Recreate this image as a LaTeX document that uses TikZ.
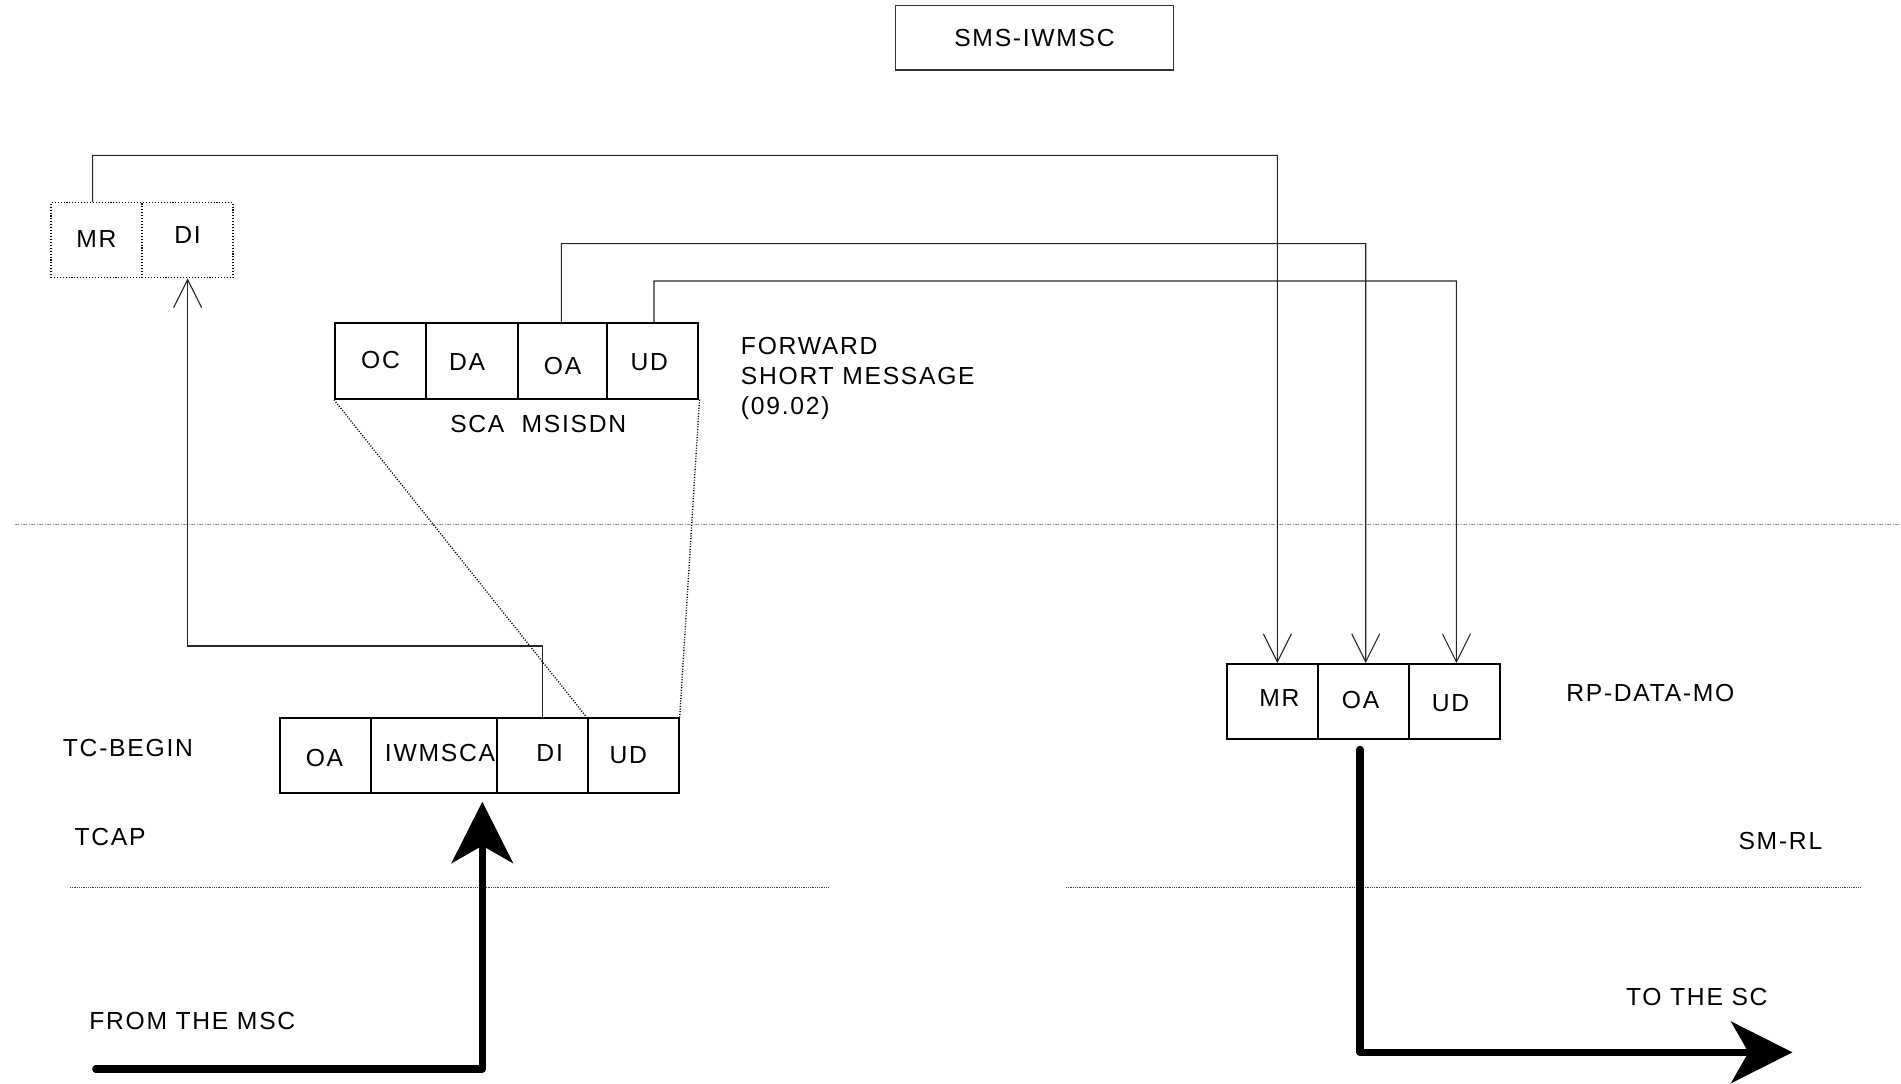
\documentclass[tikz,border=0pt]{standalone}
\usepackage{fontspec}
\setmainfont{Liberation Sans}[LetterSpace=7]
\usetikzlibrary{arrows.meta}
\begin{document}
\begin{tikzpicture}[x=0.75pt,y=-0.75pt,
  txt/.style={inner sep=0pt,font=\fontsize{18.5}{22.5}\selectfont},
  cell/.style={draw,line width=1.5pt,inner sep=0pt,font=\fontsize{18.5}{22.5}\selectfont},
  dcell/.style={draw,line width=1.1pt,dash pattern=on 0.8pt off 1.4pt,inner sep=0pt,font=\fontsize{18.5}{22.5}\selectfont},
  lab/.style 2 args={label={[txt,xshift=#1,yshift=#2]center:\nodetext}},
  conn/.style={line width=0.8pt,draw=black!85},
  barb/.style={-{Straight Barb[length=21pt,width=21pt]}},
  big/.style={line width=5.3pt,line cap=round,line join=round,-{Stealth[length=46pt,width=46pt,inset=13pt]}},
  trap/.style={line width=1pt,dash pattern=on 0.8pt off 1.2pt},
  sep/.style={line width=0.75pt,draw=gray!80,dash pattern=on 3pt off 1pt on 1pt off 1pt},
  layer/.style={line width=0.75pt,draw=black!75,dash pattern=on 0.75pt off 0.6pt}]
\useasboundingbox (0,0) rectangle (1901,1083);

% title box
\node[draw=black!80,line width=0.9pt,minimum width=208.2pt,minimum height=48.2pt,inner sep=0pt,
  font=\fontsize{18.5}{22.5}\selectfont] (sms) at (1034.5,37.85) {SMS-IWMSC};

% dotted MR / DI
\node[dcell,minimum width=68.3pt,minimum height=56.25pt,label={[txt,yshift=0.9pt]center:MR}] (dmr) at (96.45,240.2) {};
\node[dcell,minimum width=68.4pt,minimum height=56.25pt,label={[txt,yshift=3.6pt]center:DI}] (ddi) at (187.6,240.2) {};

% forward short message
\node[cell,minimum width=68.25pt,minimum height=56.6pt,label={[txt,yshift=1pt]center:OC}] (foc) at (380.5,361) {};
\node[cell,minimum width=68.8pt,minimum height=56.6pt,label={[txt,xshift=-3.6pt,yshift=-0.8pt]center:DA}] (fda) at (471.85,361) {};
\node[cell,minimum width=67.3pt,minimum height=56.6pt,label={[txt,yshift=-3.6pt]center:OA}] (foa) at (562.55,361) {};
\node[cell,minimum width=68.3pt,minimum height=56.6pt,label={[txt,xshift=-2.7pt,yshift=-0.8pt]center:UD}] (fud) at (652.95,361) {};
\node[txt,anchor=west] (sca) at (450,424) {SCA\ \ MSISDN};
\node[txt,anchor=west,align=left] (fsm) at (740.7,378) {FORWARD\\SHORT MESSAGE\\(09.02)};

% TC-BEGIN
\node[cell,minimum width=68pt,minimum height=55.8pt,label={[txt,xshift=-0.9pt,yshift=-1.8pt]center:OA}] (boa) at (325.65,755.5) {};
\node[cell,minimum width=94.5pt,minimum height=55.8pt,label={[txt,xshift=4.5pt,yshift=1.8pt]center:IWMSCA}] (biw) at (434,755.5) {};
\node[cell,minimum width=68pt,minimum height=55.8pt,label={[txt,xshift=5.5pt,yshift=1.8pt]center:DI}] (bdi) at (542.35,755.5) {};
\node[cell,minimum width=68.25pt,minimum height=55.8pt,label={[txt,xshift=-3.6pt]center:UD}] (bud) at (633.2,755.5) {};
\node[txt,anchor=west] (tcb) at (62.7,748.3) {TC-BEGIN};
\node[txt,anchor=west] (tcap) at (74.3,837.3) {TCAP};
\node[txt,anchor=west] (from) at (89,1021.3) {FROM THE MSC};

% RP-DATA-MO
\node[cell,minimum width=68pt,minimum height=56.25pt,label={[txt,xshift=5.5pt,yshift=2.7pt]center:MR}] (rmr) at (1272.15,701.5) {};
\node[cell,minimum width=68.3pt,minimum height=56.25pt,label={[txt,xshift=-1.8pt,yshift=0.9pt]center:OA}] (roa) at (1363.05,701.5) {};
\node[cell,minimum width=68.3pt,minimum height=56.25pt,label={[txt,xshift=-2.7pt,yshift=-1.5pt]center:UD}] (rud) at (1454.15,701.5) {};
\node[txt,anchor=west] (rp) at (1566,693.3) {RP-DATA-MO};
\node[txt,anchor=west] (smrl) at (1738.3,840.7) {SM-RL};
\node[txt,anchor=west] (tosc) at (1625.8,996.7) {TO THE SC};

% separators
\coordinate (s1) at (15.3,524.7);
\coordinate (s2) at (1901,524.7);
\draw[sep] (s1) -- (s2);
\coordinate (l1) at (70,887.3);
\coordinate (l2) at (829,887.3);
\coordinate (l3) at (1066,887.3);
\coordinate (l4) at (1860,887.3);
\draw[layer] (l1) -- (l2);
\draw[layer] (l3) -- (l4);

% mapping connectors
\coordinate (k1) at (1277.3,155.3);
\coordinate (k2) at (1365.7,243.7);
\coordinate (k3) at (1456.4,281);
\coordinate (k4) at (187.6,646);
\draw[conn,barb] ([xshift=-2.9pt]dmr.north) |- (k1) -- ([xshift=3.9pt]rmr.north);
\draw[conn,barb] ([xshift=-0.9pt]foa.north) |- (k2) -- ([xshift=2pt]roa.north);
\draw[conn,barb] ([xshift=0.8pt]fud.north) |- (k3) -- ([xshift=1.7pt]rud.north);
\draw[conn,barb] (bdi.north) |- (k4) -- (ddi.south);

% dotted expansion lines
\draw[trap] (foc.south west) -- (bud.north west);
\draw[trap] (fud.south east) -- (bud.north east);

% big flow arrows
\coordinate (msc) at (95.7,1069);
\coordinate (in) at (482.3,801.7);
\draw[big] (msc) -| (in);
\coordinate (sc) at (1792.5,1052.3);
\draw[big] ([xshift=-2.3pt,yshift=-7pt]roa.south) |- (sc);
\end{tikzpicture}
\end{document}
